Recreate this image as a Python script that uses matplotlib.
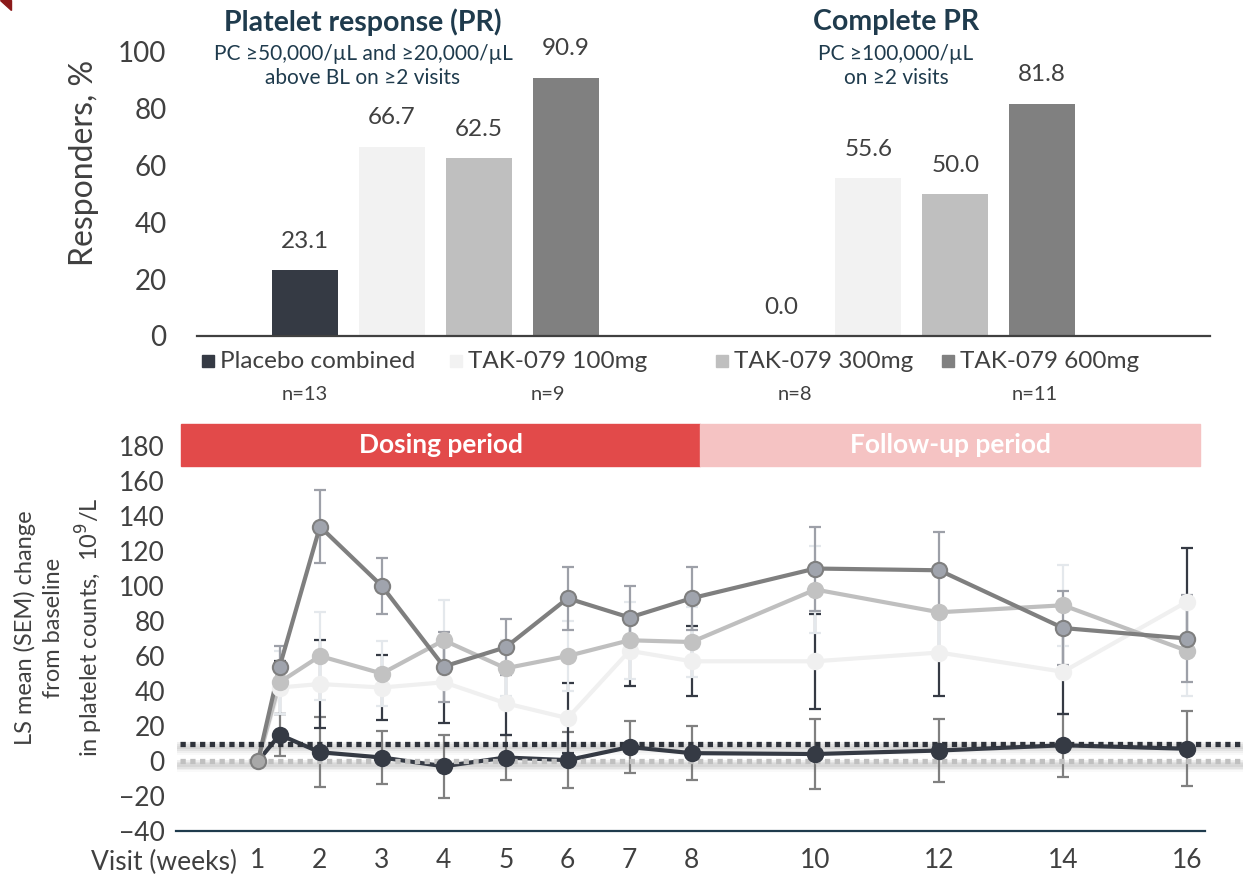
import matplotlib
matplotlib.use("Agg")
import matplotlib.pyplot as plt
from matplotlib.patches import Rectangle, Polygon

plt.rcParams["font.family"] = ["Lato", "DejaVu Sans"]

# ---- top chart data ----
groups = ["Platelet response (PR)", "Complete PR"]
group_notes = ["PC \u226550,000/\u00b5L and \u226520,000/\u00b5L\nabove BL on \u22652 visits",
               "PC \u2265100,000/\u00b5L\non \u22652 visits"]
arms = ["Placebo combined", "TAK-079 100mg", "TAK-079 300mg", "TAK-079 600mg"]
arm_n = ["n=13", "n=9", "n=8", "n=11"]
pr_values = [23.1, 66.7, 62.5, 90.9]
cpr_values = [0.0, 55.6, 50.0, 81.8]
bar_colors = ["#353a44", "#f2f2f2", "#bfbfbf", "#808080"]

# ---- bottom chart data ----
weeks = [1, 1.35, 2, 3, 4, 5, 6, 7, 8, 10, 12, 14, 16]
week_ticks = [1, 2, 3, 4, 5, 6, 7, 8, 10, 12, 14, 16]
placebo_mean = [0, 15, 5, 2, -3, 2, 0.5, 8, 4.5, 4, 6, 9, 7]
placebo_sem = [0, 12, 20, 15, 18, 13, 16, 15, 15.5, 20, 18, 18, 21.5]
tak100_mean = [0, 42, 44, 42, 45, 33, 24.5, 63, 57, 57, 62, 51, 91]
tak100_sem = [0, 15, 25, 18.5, 23, 18, 20, 20, 20, 27, 25, 24, 31]
tak300_mean = [0, 45, 60, 50, 69, 53, 60, 69, 68, 98, 85, 89, 63]
tak300_sem = [0, 18, 25, 18.5, 23, 16, 20, 22, 20, 25, 25, 23, 26]
tak600_mean = [0, 54, 134, 100, 54, 65, 93, 82, 93, 110, 109, 76, 70]
tak600_sem = [0, 12, 21, 16, 20, 16, 18, 18, 18, 24, 22, 21, 25]
ref_levels = [10, 0]

W, H = 1243, 883
fig = plt.figure(figsize=(W / 100, H / 100), dpi=100)


def fx(px):
    return px / W


def fy(py):
    return 1 - py / H


text_col = "#404040"
navy = "#1f3b4d"

# ================= top bar chart =================
ax1 = fig.add_axes([fx(197), fy(336), fx(1210) - fx(197), fy(52) - fy(336)])
step = 1.0
group_centers = [2.741, 8.213]
width = 0.76
for g, vals in enumerate([pr_values, cpr_values]):
    for i, v in enumerate(vals):
        x = group_centers[g] + (i - 1.5) * step
        ax1.bar(x, v, width=width, color=bar_colors[i], zorder=2)
        ax1.text(x, v + 6.5, f"{v:.1f}", ha="center", va="bottom",
                 fontsize=17.5, color=text_col)
ax1.set_xlim(0, 11.64)
ax1.set_ylim(0, 100)
ax1.set_yticks([0, 20, 40, 60, 80, 100])
ax1.tick_params(axis="y", length=0, labelsize=20, labelcolor=text_col, pad=22)
ax1.set_xticks([])
for s in ["top", "right", "left"]:
    ax1.spines[s].set_visible(False)
ax1.spines["bottom"].set_color("#404040")
ax1.spines["bottom"].set_linewidth(1.6)
fig.text(fx(84), fy(163), "Responders, %", rotation=90, ha="center", va="center",
         fontsize=23, color=text_col)

for g in range(2):
    cx = fx([363, 896][g])
    fig.text(cx, fy(22), groups[g], ha="center", va="center",
             fontsize=20.5, fontweight="bold", color=navy)
    fig.text(cx, fy(66), group_notes[g], ha="center", va="center",
             fontsize=15, color=navy, linespacing=1.2)

# legend row
leg_sq = [208, 456, 722, 948]
for i, name in enumerate(arms):
    fig.add_artist(Rectangle((fx(leg_sq[i] - 6), fy(367)), fx(12), fy(355) - fy(367),
                             transform=fig.transFigure, color=bar_colors[i]))
    fig.text(fx(leg_sq[i] + 12), fy(361), name, ha="left", va="center",
             fontsize=17.5, color=text_col)
n_x = [305, 548, 795, 1035]
for i, n in enumerate(arm_n):
    fig.text(fx(n_x[i]), fy(395), n, ha="center", va="center",
             fontsize=14.5, color=text_col)

# ================= bottom line chart =================
ax2 = fig.add_axes([fx(176), fy(831), fx(1243) - fx(176), fy(424) - fy(831)])
x_left = (176 - 258) / 61.93 + 1
x_right = (1243 - 258) / 61.93 + 1
ax2.set_xlim(x_left, x_right)
ax2.set_ylim(-40, 192.6)

# period bands
ax2.add_patch(Rectangle((-0.24, 168.6), 8.38, 24, color="#e24a4a", zorder=1, clip_on=False))
ax2.add_patch(Rectangle((8.14, 168.6), 8.07, 24, color="#f5c3c3", zorder=1, clip_on=False))
ax2.text(3.95, 180.6, "Dosing period", ha="center", va="center", color="white",
         fontsize=19, fontweight="bold")
ax2.text(12.18, 180.6, "Follow-up period", ha="center", va="center", color="white",
         fontsize=19, fontweight="bold")

series = [
    (placebo_mean, placebo_sem, "#353a44", "#353a44", "#353a44", "#808080"),
    (tak100_mean, tak100_sem, "#f0f0f0", "#f0f0f0", "#f0f0f0", "#353a44"),
    (tak300_mean, tak300_sem, "#bfbfbf", "#c2c2c2", "#c2c2c2", "#e4e8ec"),
    (tak600_mean, tak600_sem, "#7f7f7f", "#a0a4ad", "#7f7f7f", "#9da0a8"),
]
# error bars first (under everything)
for k, (m, s, lc, mfc, mec, ec) in enumerate(series):
    ax2.errorbar(weeks[1:], m[1:], yerr=s[1:], fmt="none", ecolor=ec,
                 elinewidth=1.6, capsize=4.5, capthick=1.6, zorder=2 + k * 0.1)

# reference dotted lines with soft shadow
ref_colors = ["#2f333b", "#c0c0c0"]
for lvl, c in zip(ref_levels, ref_colors):
    for off, a in [(-1.0, 0.12), (-2.0, 0.10), (-3.0, 0.07), (-4.0, 0.04)]:
        ax2.axhline(lvl + off, xmin=0.004, xmax=1, color="#777777", lw=5, alpha=a, zorder=2.5)
    ax2.axhline(lvl, xmin=0.004, xmax=1, color=c, lw=3.8,
                linestyle=(0, (1, 0.85)), zorder=4.5)

for k, (m, s, lc, mfc, mec, ec) in enumerate(series):
    ax2.plot(weeks, m, color=lc, lw=3, zorder=3 + k * 0.2)
    ax2.plot(weeks[1:], m[1:], linestyle="none", marker="o", markersize=11,
             markerfacecolor=mfc, markeredgecolor=mec, markeredgewidth=1.5,
             zorder=5 + k * 0.2)
# shared baseline point at week 1
ax2.plot(weeks[0], tak600_mean[0], marker="o", markersize=11, markerfacecolor="#a8a8a8",
         markeredgecolor="#7f7f7f", markeredgewidth=1.5, linestyle="none", zorder=6)

ax2.axhline(-40, xmin=0, xmax=(1205 - 176) / (1243 - 176), color=navy, lw=1.6,
            clip_on=False, zorder=3)
for sp in ax2.spines.values():
    sp.set_visible(False)
ax2.set_yticks(list(range(-40, 181, 20)))
ax2.set_xticks(week_ticks)
ax2.tick_params(axis="both", length=0, labelsize=19, labelcolor=text_col)
ax2.tick_params(axis="y", pad=8)
ax2.tick_params(axis="x", pad=12)
ax2.set_ylabel("LS mean (SEM) change\nfrom baseline\nin platelet counts,  10$^9$/L",
               fontsize=17, color=text_col, labelpad=10, linespacing=1.4)
fig.text(fx(237), fy(862), "Visit (weeks)", ha="right", va="center",
         fontsize=19, color=text_col)

# corner mark
fig.add_artist(Polygon([(fx(0), fy(0)), (fx(11), fy(0)), (fx(11), fy(10))],
                       closed=True, transform=fig.transFigure, color="#8b1a1a"))

fig.savefig("out.png", dpi=100)
